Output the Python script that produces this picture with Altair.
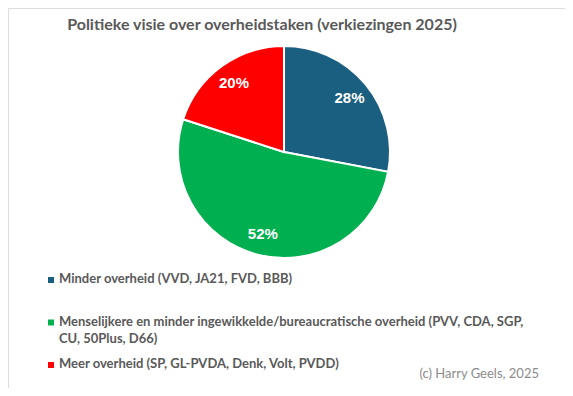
import altair as alt
import pandas as pd

categories = [
    "Minder overheid (VVD, JA21, FVD, BBB)",
    "Menselijkere en minder ingewikkelde/bureaucratische overheid (PVV, CDA, SGP,\nCU, 50Plus, D66)",
    "Meer overheid (SP, GL-PVDA, Denk, Volt, PVDD)",
]
shares = [28, 52, 20]
labels = ["28%", "52%", "20%"]
colors = ["#1a5e80", "#00b050", "#ff0000"]
title_text = "Politieke visie over overheidstaken (verkiezingen 2025)"
credit_text = "(c) Harry Geels, 2025"

df = pd.DataFrame({"cat": categories, "share": shares, "label": labels,
                   "order": list(range(len(categories)))})

color = alt.Color("cat:N", scale=alt.Scale(domain=categories, range=colors), legend=None)
cx, cy = 276, 144

base = alt.Chart(df)

pie = base.mark_arc(stroke="white", strokeWidth=2, outerRadius=106).encode(
    theta=alt.Theta("share:Q", stack=True),
    order=alt.Order("order:Q"),
    color=color,
    x=alt.value(cx), y=alt.value(cy),
)

pct = base.mark_text(radius=85, fontSize=15, fontWeight="bold", color="white",
                     font="Liberation Sans").encode(
    theta=alt.Theta("share:Q", stack=True),
    order=alt.Order("order:Q"),
    text="label:N",
    x=alt.value(cx), y=alt.value(cy),
)

ypos = alt.Y("order:Q", scale=alt.Scale(domain=[0, 2], range=[265, 350], nice=False, zero=False),
             axis=None)

leg_sq = base.mark_square(size=36, opacity=1, yOffset=7).encode(
    x=alt.value(43), y=ypos, color=color,
)
leg_txt = base.mark_text(align="left", baseline="top", fontSize=13, fontWeight="bold",
                         color="#595959", lineBreak="\n", lineHeight=17,
                         font="Lato").encode(
    x=alt.value(51), y=ypos, text="cat:N",
)

title = alt.Chart(pd.DataFrame({"t": [title_text]})).mark_text(
    fontSize=16, fontWeight="bold", color="#595959", font="Lato", baseline="middle"
).encode(text="t:N", x=alt.value(254), y=alt.value(17))

credit = alt.Chart(pd.DataFrame({"t": [credit_text]})).mark_text(
    fontSize=13, color="#8c8c8c", font="Lato", align="right", baseline="middle"
).encode(text="t:N", x=alt.value(531), y=alt.value(366))

chart = alt.layer(pie, pct, leg_sq, leg_txt, title, credit).properties(
    width=557, height=380,
    autosize=alt.AutoSizeParams(type="fit", contains="padding"),
    padding=0,
).configure_view(stroke="#d9d9d9", strokeWidth=2).configure(background="white")

chart.save("out.html", embed_options={"renderer": "svg", "actions": False})
